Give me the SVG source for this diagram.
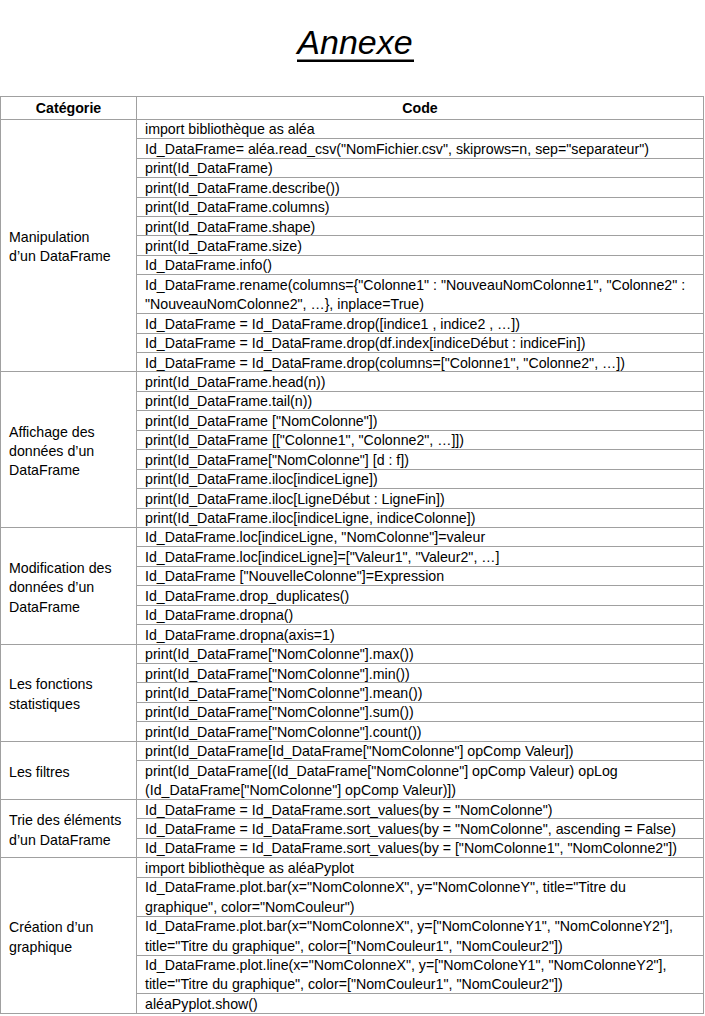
<svg xmlns="http://www.w3.org/2000/svg" width="705" height="1016" viewBox="0 0 705 1016">
<style>
  .t{font-family:"Liberation Sans",Arial,sans-serif;font-size:14.2px;fill:#000}
  .h{font-family:"Liberation Sans",Arial,sans-serif;font-size:14.2px;font-weight:bold;fill:#000;text-anchor:middle}
  .g{stroke:#a0a0a0;stroke-width:1;fill:none}
  .title{font-family:"Liberation Sans",Arial,sans-serif;font-size:34px;font-style:italic;fill:#000;text-anchor:middle}
</style>
<rect width="705" height="1016" fill="#fff"/>
<g id="title">
  <text class="title" x="355" y="53.5">Annexe</text>
  <rect x="297" y="59.5" width="117" height="2.5" fill="#000"/>
</g>
<g id="grid" class="g">
  <rect x="0.5" y="96.5" width="703" height="917"/>
  <line x1="136.5" y1="96.5" x2="136.5" y2="1013.5"/>
  <line x1="0.5" y1="119.5" x2="703.5" y2="119.5"/>
  <line x1="0.5" y1="371.5" x2="703.5" y2="371.5"/>
  <line x1="0.5" y1="527.5" x2="703.5" y2="527.5"/>
  <line x1="0.5" y1="644.5" x2="703.5" y2="644.5"/>
  <line x1="0.5" y1="741.5" x2="703.5" y2="741.5"/>
  <line x1="0.5" y1="799.5" x2="703.5" y2="799.5"/>
  <line x1="0.5" y1="857.5" x2="703.5" y2="857.5"/>
  <path d="M136.5 138.5H703.5M136.5 158.5H703.5M136.5 177.5H703.5M136.5 197.5H703.5M136.5 216.5H703.5M136.5 235.5H703.5M136.5 255.5H703.5M136.5 274.5H703.5M136.5 313.5H703.5M136.5 333.5H703.5M136.5 352.5H703.5"/>
  <path d="M136.5 391.5H703.5M136.5 410.5H703.5M136.5 430.5H703.5M136.5 449.5H703.5M136.5 469.5H703.5M136.5 488.5H703.5M136.5 508.5H703.5"/>
  <path d="M136.5 546.5H703.5M136.5 566.5H703.5M136.5 585.5H703.5M136.5 605.5H703.5M136.5 624.5H703.5"/>
  <path d="M136.5 663.5H703.5M136.5 682.5H703.5M136.5 702.5H703.5M136.5 721.5H703.5"/>
  <path d="M136.5 760.5H703.5"/>
  <path d="M136.5 818.5H703.5M136.5 838.5H703.5"/>
  <path d="M136.5 877.5H703.5M136.5 916.5H703.5M136.5 955.5H703.5M136.5 993.5H703.5"/>
</g>
<g id="connectors"></g>
<g id="header">
  <text class="h" x="68.5" y="113">Catégorie</text>
  <text class="h" x="420" y="113">Code</text>
</g>
<g id="manipulation">
  <text class="t" x="9" y="241.5">Manipulation</text>
  <text class="t" x="9" y="261">d’un DataFrame</text>
  <text class="t" x="145" y="134.3">import bibliothèque as aléa</text>
  <text class="t" x="145" y="153.7">Id_DataFrame= aléa.read_csv("NomFichier.csv", skiprows=n, sep="separateur")</text>
  <text class="t" x="145" y="173.2">print(Id_DataFrame)</text>
  <text class="t" x="145" y="192.6">print(Id_DataFrame.describe())</text>
  <text class="t" x="145" y="212">print(Id_DataFrame.columns)</text>
  <text class="t" x="145" y="231.5">print(Id_DataFrame.shape)</text>
  <text class="t" x="145" y="250.9">print(Id_DataFrame.size)</text>
  <text class="t" x="145" y="270.3">Id_DataFrame.info()</text>
  <text class="t" x="145" y="289.8">Id_DataFrame.rename(columns={"Colonne1" : "NouveauNomColonne1", "Colonne2" :</text>
  <text class="t" x="145" y="309.2">"NouveauNomColonne2", …}, inplace=True)</text>
  <text class="t" x="145" y="328.7">Id_DataFrame = Id_DataFrame.drop([indice1 , indice2 , …])</text>
  <text class="t" x="145" y="348.1">Id_DataFrame = Id_DataFrame.drop(df.index[indiceDébut : indiceFin])</text>
  <text class="t" x="145" y="367.5">Id_DataFrame = Id_DataFrame.drop(columns=["Colonne1", "Colonne2", …])</text>
</g>
<g id="affichage">
  <text class="t" x="9" y="436.6">Affichage des</text>
  <text class="t" x="9" y="456">données d’un</text>
  <text class="t" x="9" y="475.4">DataFrame</text>
  <text class="t" x="145" y="387">print(Id_DataFrame.head(n))</text>
  <text class="t" x="145" y="406.4">print(Id_DataFrame.tail(n))</text>
  <text class="t" x="145" y="425.8">print(Id_DataFrame ["NomColonne"])</text>
  <text class="t" x="145" y="445.3">print(Id_DataFrame [["Colonne1", "Colonne2", …]])</text>
  <text class="t" x="145" y="464.7">print(Id_DataFrame["NomColonne"] [d : f])</text>
  <text class="t" x="145" y="484.1">print(Id_DataFrame.iloc[indiceLigne])</text>
  <text class="t" x="145" y="503.6">print(Id_DataFrame.iloc[LigneDébut : LigneFin])</text>
  <text class="t" x="145" y="523">print(Id_DataFrame.iloc[indiceLigne, indiceColonne])</text>
</g>
<g id="modification">
  <text class="t" x="9" y="572.6">Modification des</text>
  <text class="t" x="9" y="592">données d’un</text>
  <text class="t" x="9" y="611.5">DataFrame</text>
  <text class="t" x="145" y="542.4">Id_DataFrame.loc[indiceLigne, "NomColonne"]=valeur</text>
  <text class="t" x="145" y="561.9">Id_DataFrame.loc[indiceLigne]=["Valeur1", "Valeur2", …]</text>
  <text class="t" x="145" y="581.3">Id_DataFrame ["NouvelleColonne"]=Expression</text>
  <text class="t" x="145" y="600.7">Id_DataFrame.drop_duplicates()</text>
  <text class="t" x="145" y="620.2">Id_DataFrame.dropna()</text>
  <text class="t" x="145" y="639.6">Id_DataFrame.dropna(axis=1)</text>
</g>
<g id="statistiques">
  <text class="t" x="9" y="689.2">Les fonctions</text>
  <text class="t" x="9" y="708.6">statistiques</text>
  <text class="t" x="145" y="659.1">print(Id_DataFrame["NomColonne"].max())</text>
  <text class="t" x="145" y="678.5">print(Id_DataFrame["NomColonne"].min())</text>
  <text class="t" x="145" y="697.9">print(Id_DataFrame["NomColonne"].mean())</text>
  <text class="t" x="145" y="717.4">print(Id_DataFrame["NomColonne"].sum())</text>
  <text class="t" x="145" y="736.8">print(Id_DataFrame["NomColonne"].count())</text>
</g>
<g id="filtres">
  <text class="t" x="9" y="776.7">Les filtres</text>
  <text class="t" x="145" y="756.2">print(Id_DataFrame[Id_DataFrame["NomColonne"] opComp Valeur])</text>
  <text class="t" x="145" y="775.7">print(Id_DataFrame[(Id_DataFrame["NomColonne"] opComp Valeur) opLog</text>
  <text class="t" x="145" y="795.1">(Id_DataFrame["NomColonne"] opComp Valeur)])</text>
</g>
<g id="trie">
  <text class="t" x="9" y="825.3">Trie des éléments</text>
  <text class="t" x="9" y="844.7">d’un DataFrame</text>
  <text class="t" x="145" y="814.5">Id_DataFrame = Id_DataFrame.sort_values(by = "NomColonne")</text>
  <text class="t" x="145" y="834">Id_DataFrame = Id_DataFrame.sort_values(by = "NomColonne", ascending = False)</text>
  <text class="t" x="145" y="853.4">Id_DataFrame = Id_DataFrame.sort_values(by = ["NomColonne1", "NomColonne2"])</text>
</g>
<g id="graphique">
  <text class="t" x="9" y="932.1">Création d’un</text>
  <text class="t" x="9" y="951.6">graphique</text>
  <text class="t" x="145" y="872.8">import bibliothèque as aléaPyplot</text>
  <text class="t" x="145" y="892.3">Id_DataFrame.plot.bar(x="NomColonneX", y="NomColonneY", title="Titre du</text>
  <text class="t" x="145" y="911.7">graphique", color="NomCouleur")</text>
  <text class="t" x="145" y="931.1">Id_DataFrame.plot.bar(x="NomColonneX", y=["NomColonneY1", "NomColonneY2"],</text>
  <text class="t" x="145" y="950.6">title="Titre du graphique", color=["NomCouleur1", "NomCouleur2"])</text>
  <text class="t" x="145" y="970">Id_DataFrame.plot.line(x="NomColonneX", y=["NomColoneY1", "NomColonneY2"],</text>
  <text class="t" x="145" y="989.4">title="Titre du graphique", color=["NomCouleur1", "NomCouleur2"])</text>
  <text class="t" x="145" y="1008.9">aléaPyplot.show()</text>
</g>
</svg>
